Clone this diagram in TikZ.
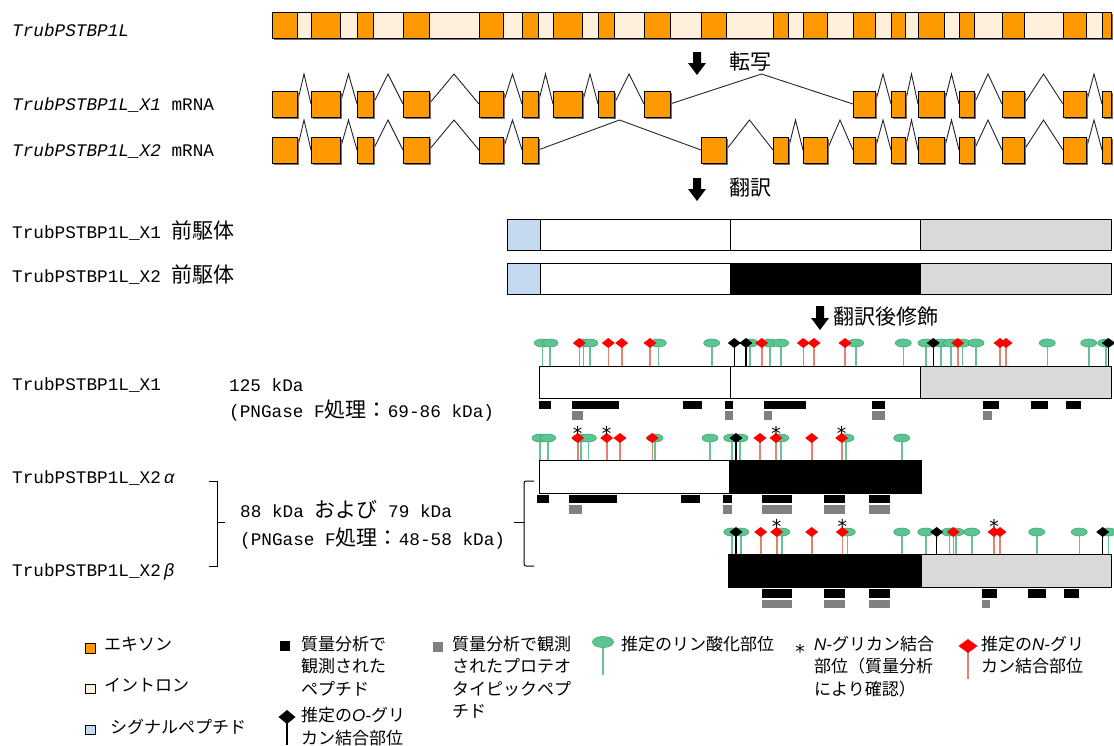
\documentclass[tikz,border=0pt]{standalone}
\usepackage{fontspec}
\setmainfont{Liberation Mono}
\newfontfamily\jp{Noto Sans CJK JP}
\newfontfamily\ls{Liberation Sans}
\newfontfamily\dv{DejaVu Sans}
\definecolor{exon}{HTML}{FF9900}
\definecolor{intron}{HTML}{FFF0DC}
\definecolor{sig}{HTML}{C5D9F1}
\definecolor{cgrey}{HTML}{D9D9D9}
\definecolor{pgreen}{HTML}{5CC592}
\definecolor{pgreenD}{HTML}{3FA874}
\definecolor{stemG}{HTML}{66C29A}
\definecolor{stemR}{HTML}{E8806E}
\definecolor{pepgrey}{HTML}{808080}
\newcommand\lab{\fontsize{17.7}{20}\selectfont}
\newcommand\J[1]{{\jp\fontsize{21}{24}\selectfont #1}}
\newcommand\legf{\jp\fontsize{17}{22.5}\selectfont}
\newcommand\itl[1]{{\ls\itshape #1}}
\tikzset{
 lbl/.style={anchor=base west, inner sep=0pt, font=\lab},
 leg/.style={anchor=base west, inner sep=0pt, font=\legf, align=left},
 ast/.style={anchor=base, inner sep=0pt, font=\dv\fontsize{19}{20}\selectfont},
 ol/.style={draw=black, line width=1pt},
 exbox/.style={fill=exon, draw=black, line width=0.9pt},
 shad/.style={fill=black!55},
 intr/.style={draw=black!85, line width=0.9pt},
 pepB/.style={fill=black},
 pepG/.style={fill=pepgrey},
 stG/.style={draw=stemG, line width=1.6pt},
 stR/.style={draw=stemR, line width=1.6pt},
 stB/.style={draw=black, line width=1.4pt},
 mkG/.style={fill=pgreen, draw=pgreenD, line width=0.6pt},
 mkR/.style={fill=red},
 mkB/.style={fill=black},
 barr/.style={fill=black},
}
\newcommand\siterow[5]{%
 \foreach \s in {#3}{\draw[stG] (\s,#1) -- (\s,#2);}
 \foreach \s in {#4}{\draw[stR] (\s,#1) -- (\s,#2);}
 \foreach \s in {#5}{\draw[stB] (\s,#1) -- (\s,#2);}
 \foreach \s in {#3}{\filldraw[mkG] (\s,#1) ellipse [x radius=8pt, y radius=4pt];}
 \foreach \s in {#4}{\fill[mkR] (\s,#1) +(0,-5) -- +(6.5,0) -- +(0,5) -- +(-6.5,0) -- cycle;}
 \foreach \s in {#5}{\fill[mkB] (\s,#1) +(0,-5) -- +(6.5,0) -- +(0,5) -- +(-6.5,0) -- cycle;}
}
\begin{document}
\begin{tikzpicture}[x=1pt,y=-1pt]
\useasboundingbox (0,0) rectangle (1114,745);
% ---------- gene ----------
\node[lbl] (gene) at (12,36) {\textit{TrubPSTBP1L}};
\fill[shad] (273.5,13.5) rectangle (1112.5,39.5);
\filldraw[fill=intron, ol] (272,12) rectangle (1111,38);
\foreach \a/\b in {272/297,311/340,357/373,403/429,479/503,522/538,553/582,598/614,644/670,701/726,773/788,803/827,853/875,891/905,918/944,959/974,1002/1024,1063/1086,1102/1111}
 {\filldraw[exbox] (\a,12) rectangle (\b,38);}
\draw[ol] (272,12) rectangle (1111,38);
% arrow 1
\fill[barr] (693,52) -- (701,52) -- (701,63) -- (706,63) -- (697,75) -- (688,63) -- (693,63) -- cycle;
\node[anchor=base west, inner sep=0pt] (tr) at (729,69.5) {\J{転写}};
% ---------- mRNA X1 ----------
\node[lbl] (mx1) at (12,110) {\textit{TrubPSTBP1L\_X1} mRNA};
\foreach \a/\b in {297/311,340/357,373/403,429/479,503/522,538/553,582/598,614/644,670/853,875/891,905/918,944/959,974/1002,1024/1063,1086/1102}
 {\draw[intr] (\a,104) -- ({(\a+\b)/2},74) -- (\b,104);}
\foreach \a/\b in {272/297,311/340,357/373,403/429,479/503,522/538,553/582,598/614,644/670,853/875,891/905,918/944,959/974,1002/1024,1063/1086,1102/1111}
 {\fill[shad] (\a+1.5,92.5) rectangle (\b+1.5,118.5);
  \filldraw[exbox] (\a,91) rectangle (\b,117);}
% ---------- mRNA X2 ----------
\node[lbl] (mx2) at (12,156) {\textit{TrubPSTBP1L\_X2} mRNA};
\foreach \a/\b in {297/311,340/357,373/403,429/479,503/522,538/701,726/773,788/803,827/853,875/891,905/918,944/959,974/1002,1024/1063,1086/1102}
 {\draw[intr] (\a,150) -- ({(\a+\b)/2},120) -- (\b,150);}
\foreach \a/\b in {272/297,311/340,357/373,403/429,479/503,522/538,701/726,773/788,803/827,853/875,891/905,918/944,959/974,1002/1024,1063/1086,1102/1111}
 {\fill[shad] (\a+1.5,138.5) rectangle (\b+1.5,164.5);
  \filldraw[exbox] (\a,137) rectangle (\b,163);}
% arrow 2
\fill[barr] (693,178) -- (701,178) -- (701,189) -- (706,189) -- (697,201) -- (688,189) -- (693,189) -- cycle;
\node[anchor=base west, inner sep=0pt] (tl) at (729,195.5) {\J{翻訳}};
% ---------- precursors ----------
\node[lbl] (p1) at (12,238) {TrubPSTBP1L\_X1 \J{前駆体}};
\filldraw[fill=sig, ol] (507,219) rectangle (540,250);
\filldraw[fill=white, ol] (540,219) rectangle (730,250);
\filldraw[fill=white, ol] (730,219) rectangle (920,250);
\filldraw[fill=cgrey, ol] (920,219) rectangle (1111,250);
\node[lbl] (p2) at (12,282) {TrubPSTBP1L\_X2 \J{前駆体}};
\filldraw[fill=sig, ol] (507,263) rectangle (540,294);
\filldraw[fill=white, ol] (540,263) rectangle (730,294);
\filldraw[fill=black, ol] (730,263) rectangle (920,294);
\filldraw[fill=cgrey, ol] (920,263) rectangle (1111,294);
% arrow 3
\fill[barr] (816,306) -- (824,306) -- (824,318) -- (829,318) -- (820,330) -- (811,318) -- (816,318) -- cycle;
\node[anchor=base west, inner sep=0pt] (ptm) at (833,324) {\J{翻訳後修飾}};
% ---------- mature X1 ----------
\node[lbl] (x1) at (12,390) {TrubPSTBP1L\_X1};
\node[lbl] (kda1) at (229,391) {125 kDa};
\node[lbl] (png1) at (229,417) {(PNGase F\J{処理：}69-86 kDa)};
\siterow{343}{366}
 {542.3,550,583.3,590,658.3,711.7,750,770,780.7,855.7,903.3,926,940.7,951,962.3,976,1047.3,1088.7,1105.7}
 {579.3,608.3,621.7,650,761.7,803.3,814,845,957.7,1000,1006}
 {734.3,746,933.3,1108.3}
\filldraw[fill=white, ol] (539,366) rectangle (730,398);
\filldraw[fill=white, ol] (730,366) rectangle (920,398);
\filldraw[fill=cgrey, ol] (920,366) rectangle (1111,398);
\foreach \a/\b in {539.3/551,571.7/619,682.7/701.7,725/733.3,764.3/805.7,871.7/885,983.3/999,1031/1047.7,1066/1081}
 {\fill[pepB] (\a,401) rectangle (\b,408.5);}
\foreach \a/\b in {571.7/583.3,725/733.3,764.3/772.3,871.7/885,983.3/991.7}
 {\fill[pepG] (\a,411) rectangle (\b,420);}
% ---------- X2 alpha ----------
\node[lbl] (x2a) at (12,483) {TrubPSTBP1L\_X2\,\textit{α}};
\siterow{438}{460}
 {540,547.7,580.7,588.3,655,710,731.7,740,780.7,846,901.7}
 {577.7,606.7,620,652.3,760,776,811.7,841.7}
 {736}
\foreach \s [count=\i] in {577.7,606.7,776,841.7}{\node[ast] (aa\i) at (\s,440.5) {*};}
\filldraw[fill=white, ol] (539,460) rectangle (729,493);
\filldraw[fill=black, ol] (729,460) rectangle (921,493);
\foreach \a/\b in {537.3/549,569.3/616.7,681/700,723.3/732,761.7/791.7,824/845,869.3/890}
 {\fill[pepB] (\a,494.5) rectangle (\b,502.5);}
\foreach \a/\b in {569.3/581.7,723.3/732,761.7/791.7,824/845,869.3/890}
 {\fill[pepG] (\a,505) rectangle (\b,513.5);}
% ---------- X2 beta ----------
\node[lbl] (x2b) at (12,576) {TrubPSTBP1L\_X2\,\textit{β}};
\siterow{532}{554}
 {731.7,740.7,781.7,847.3,901.7,925.7,949.3,956,971.7,1036.7,1079.3,1108.3}
 {760.7,776.7,811.7,842.3,953.3,994,1000}
 {736,936.7,1102.7}
\foreach \s [count=\i] in {776.7,842.3,994}{\node[ast] (ab\i) at (\s,533.5) {*};}
\filldraw[fill=black, ol] (728,554) rectangle (921,587);
\filldraw[fill=cgrey, ol] (921,554) rectangle (1111,587);
\foreach \a/\b in {761.7/791.7,824/845,869.3/890,981.7/996.7,1028.3/1046,1064/1079.3}
 {\fill[pepB] (\a,589) rectangle (\b,597.5);}
\foreach \a/\b in {761.7/791.7,824/845,869.3/890,981.7/990}
 {\fill[pepG] (\a,599.5) rectangle (\b,608);}
% ---------- X2 mass labels and brackets ----------
\node[lbl] (kda2) at (240,517) {88 kDa \J{および} 79 kDa};
\node[lbl] (png2) at (240,545) {(PNGase F\J{処理：}48-58 kDa)};
\coordinate (lbt) at (209,481);
\coordinate (lbb) at (209,566);
\coordinate (lbm) at (225,522);
\draw[line width=1pt] (lbt) -- (217,481) -- (217,566) -- (lbb);
\draw[line width=1pt] (217,522) -- (lbm);
\coordinate (rbt) at (534,481);
\coordinate (rbb) at (534,566);
\coordinate (rbm) at (514,522);
\draw[line width=1pt, rounded corners=2pt] (rbt) -- (524,481) -- (524,566) -- (rbb);
\draw[line width=1pt] (524,522) -- (rbm);
% ---------- legend ----------
\filldraw[fill=exon, draw=black, line width=0.8pt] (85.5,643.5) rectangle (95.5,653);
\node[leg] (lg1) at (104,650) {エキソン};
\filldraw[fill=intron, draw=black, line width=0.8pt] (85.5,684) rectangle (95.5,693.5);
\node[leg] (lg2) at (104,691.5) {イントロン};
\filldraw[fill=sig, draw=black, line width=0.8pt] (85.5,725) rectangle (95.5,734.5);
\node[leg] (lg3) at (110,733) {シグナルペプチド};
\fill[black] (279.5,641) rectangle (290,651);
\node[leg] (lg4) at (301,695) {質量分析で\\観測された\\ペプチド};
\draw[stB] (287,717) -- (287,745);
\fill[mkB] (287,717) +(0,-7) -- +(8.5,0) -- +(0,7) -- +(-8.5,0) -- cycle;
\node[leg] (lg5) at (301,744) {推定の\itl{O-}グリ\\カン結合部位};
\fill[pepgrey] (433,642) rectangle (443,651.5);
\node[leg] (lg6) at (452,717.5) {質量分析で観測\\されたプロテオ\\タイピックペプ\\チド};
\draw[stG] (603,642) -- (603,675);
\filldraw[mkG] (603,642) ellipse [x radius=10.5pt, y radius=5.5pt];
\node[leg] (lg7) at (621,650) {推定のリン酸化部位};
\node[ast] (lga) at (800,658) {*};
\node[leg] (lg8) at (814,695) {\itl{N-}グリカン結合\\部位（質量分析\\により確認）};
\draw[stR] (968,646) -- (968,679);
\fill[mkR] (968,646) +(0,-7) -- +(9.5,0) -- +(0,7) -- +(-9.5,0) -- cycle;
\node[leg] (lg9) at (981,672.5) {推定の\itl{N-}グリ\\カン結合部位};
\end{tikzpicture}
\end{document}
